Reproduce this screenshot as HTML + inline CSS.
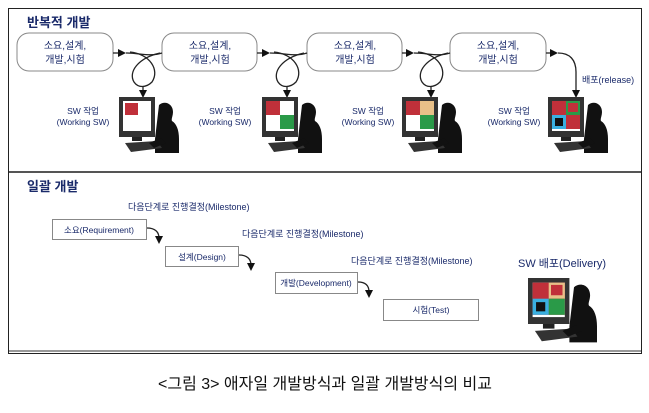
<!DOCTYPE html>
<html><head><meta charset="utf-8"><style>
body{margin:0;background:#fff;width:649px;height:408px;overflow:hidden}
svg text{font-family:"Liberation Sans","Noto Sans CJK KR",sans-serif}
</style></head><body>
<svg width="649" height="408" viewBox="0 0 649 408" xmlns="http://www.w3.org/2000/svg">
<defs>
<marker id="ah" markerWidth="8" markerHeight="8" refX="6" refY="4" orient="auto" markerUnits="userSpaceOnUse"><path d="M0,0 L8,4 L0,8 z" fill="#111"/></marker>
<g id="pc">
 <path d="M40,8 c6,-5 14,-1 14,7 c0,4 -2,7 -1,9 c5,3 7,10 7,18 l0,14 l-24,0 l0,-14 z" fill="#111"/>
 <rect x="0" y="0" width="36" height="40" fill="#333"/>
 <rect x="4" y="4" width="28" height="30" fill="#fff"/>
 <rect x="13" y="40" width="10" height="4" fill="#222"/>
 <path d="M6,46 L38,44 L43,51 L12,55 z" fill="#333"/>
 <path d="M30,46 l12,-5 l5,5 l-12,5 z" fill="#111"/>
</g>
</defs>
<rect x="8.5" y="8.5" width="633" height="345" fill="#fff" stroke="#222" stroke-width="1"/>
<line x1="9" y1="172" x2="641" y2="172" stroke="#555" stroke-width="2"/>
<line x1="9" y1="351" x2="641" y2="351" stroke="#999" stroke-width="2"/>
<text x="27" y="27" font-size="13" font-weight="bold" fill="#1a2a6a">반복적 개발</text>
<g fill="#fff" stroke="#888" stroke-width="1">
<rect x="17" y="33" width="96" height="38" rx="12"/>
<rect x="162" y="33" width="95" height="38" rx="12"/>
<rect x="307" y="33" width="95" height="38" rx="12"/>
<rect x="450" y="33" width="96" height="38" rx="12"/>
</g>
<g font-size="10" fill="#1a2a6a" text-anchor="middle">
<text x="65" y="49">소요,설계,</text><text x="65" y="63">개발,시험</text>
<text x="210" y="49">소요,설계,</text><text x="210" y="63">개발,시험</text>
<text x="355" y="49">소요,설계,</text><text x="355" y="63">개발,시험</text>
<text x="498" y="49">소요,설계,</text><text x="498" y="63">개발,시험</text>
</g>
<g fill="none" stroke="#222" stroke-width="1.3">
<path d="M113,53 L124,53" marker-end="url(#ah)"/>
<path d="M126,53 C140,53 150,57 162,53"/>
<path d="M130,52 C150,54 160,70 152,82 C146,88 138,88 134,82 C128,72 138,58 160,53"/>
<path d="M143,86 L143,96" marker-end="url(#ah)"/>
<path d="M257,53 L268,53" marker-end="url(#ah)"/>
<path d="M270,53 C285,53 295,57 307,53"/>
<path d="M274,52 C294,54 304,70 296,82 C290,88 282,88 278,82 C272,72 282,58 304,53"/>
<path d="M287,86 L287,96" marker-end="url(#ah)"/>
<path d="M402,53 L412,53" marker-end="url(#ah)"/>
<path d="M414,53 C428,53 438,57 450,53"/>
<path d="M418,52 C438,54 448,70 440,82 C434,88 426,88 422,82 C416,72 426,58 448,53"/>
<path d="M431,86 L431,96" marker-end="url(#ah)"/>
<path d="M546,53 L556,53" marker-end="url(#ah)"/>
<path d="M558,53 C570,53 576,60 576,72 L576,96" marker-end="url(#ah)"/>
</g>
<text x="582" y="83" font-size="9" fill="#1a2a6a">배포(release)</text>
<g font-size="8.5" fill="#1a2a6a" text-anchor="middle">
<text x="83" y="114">SW 작업</text><text x="83" y="125">(Working SW)</text>
<text x="225" y="114">SW 작업</text><text x="225" y="125">(Working SW)</text>
<text x="368" y="114">SW 작업</text><text x="368" y="125">(Working SW)</text>
<text x="514" y="114">SW 작업</text><text x="514" y="125">(Working SW)</text>
</g>
<use href="#pc" x="119" y="97"/>
<rect x="125" y="103" width="13" height="12" fill="#c0303a"/>
<use href="#pc" x="262" y="97"/>
<rect x="266" y="101" width="14" height="14" fill="#c0303a"/><rect x="280" y="115" width="14" height="14" fill="#2a9a48"/>
<use href="#pc" x="402" y="97"/>
<rect x="406" y="101" width="14" height="14" fill="#c0303a"/><rect x="420" y="101" width="14" height="14" fill="#e8c088"/><rect x="420" y="115" width="14" height="14" fill="#2a9a48"/>
<use href="#pc" x="548" y="97"/>
<rect x="552" y="101" width="28" height="28" fill="#c0303a"/><rect x="566" y="101" width="14" height="14" fill="#2a9a48"/><rect x="568" y="103" width="10" height="9" fill="#c0303a"/>
<rect x="552" y="115" width="14" height="14" fill="#3ab0e0"/><rect x="555" y="118" width="8" height="8" fill="#111"/>

<text x="27" y="191" font-size="13" font-weight="bold" fill="#1a2a6a">일괄 개발</text>
<g font-size="9" fill="#1a2a6a">
<text x="128" y="210">다음단계로 진행결정(Milestone)</text>
<text x="242" y="237">다음단계로 진행결정(Milestone)</text>
<text x="351" y="264">다음단계로 진행결정(Milestone)</text>
</g>
<g fill="#fff" stroke="#888">
<rect x="52.5" y="219.5" width="94" height="20"/>
<rect x="165.5" y="246.5" width="73" height="20"/>
<rect x="275.5" y="272.5" width="82" height="21"/>
<rect x="383.5" y="299.5" width="95" height="21"/>
</g>
<g font-size="8.5" fill="#1a2a6a" text-anchor="middle">
<text x="99" y="233">소요(Requirement)</text>
<text x="202" y="260">설계(Design)</text>
<text x="316" y="286">개발(Development)</text>
<text x="431" y="313">시험(Test)</text>
</g>
<g fill="none" stroke="#222" stroke-width="1.3">
<path d="M147,228 C155,228 159,232 159,238 L159,242" marker-end="url(#ah)"/>
<path d="M239,255 C247,255 251,259 251,265 L251,269" marker-end="url(#ah)"/>
<path d="M358,282 C366,282 369,286 369,292 L369,296" marker-end="url(#ah)"/>
</g>
<text x="518" y="267" font-size="11" fill="#1a2a6a">SW 배포(Delivery)</text>
<g transform="translate(528,278) scale(1.15)">
<use href="#pc" x="0" y="0"/>
<rect x="4" y="4" width="28" height="28" fill="#c0303a"/><rect x="18" y="4" width="14" height="14" fill="#e8c088"/><rect x="20" y="6" width="10" height="9" fill="#c0303a"/><rect x="18" y="18" width="14" height="14" fill="#2a9a48"/>
<rect x="4" y="18" width="14" height="14" fill="#3ab0e0"/><rect x="7" y="21" width="8" height="8" fill="#111"/>
</g>
<text x="325" y="389" font-size="16" fill="#111" text-anchor="middle">&lt;그림 3&gt; 애자일 개발방식과 일괄 개발방식의 비교</text>
</svg>
</body></html>
